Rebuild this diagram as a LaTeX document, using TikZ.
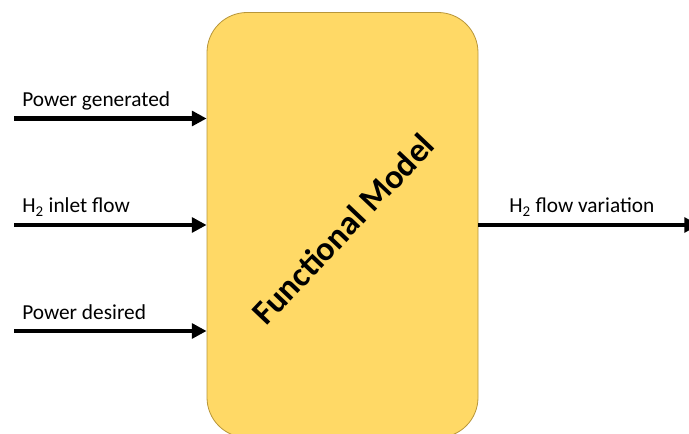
\documentclass[tikz,border=0pt]{standalone}
\usepackage{fontspec}
\setmainfont{Carlito}
\usetikzlibrary{arrows.meta}
\definecolor{boxfill}{HTML}{FFD966}
\definecolor{boxline}{HTML}{B8963A}
\tikzset{
  fmbox/.style={draw=boxline, line width=0.6pt, fill=boxfill, rounded corners=30pt,
    minimum width=203.25pt, minimum height=318.75pt, inner sep=0pt},
  flow/.style={line width=3.4pt, -{Triangle[length=11pt,width=11pt]}},
  lbl/.style={font=\fontsize{16}{19}\selectfont, inner sep=0pt, anchor=base west},
  title/.style={font=\fontsize{25.5}{30}\selectfont\bfseries, inner sep=0pt}
}
\begin{document}
\begin{tikzpicture}[x=0.75pt,y=-0.75pt]
\useasboundingbox (0,0) rectangle (689,434);
\clip (0,0) rectangle (689,434);
\node[fmbox] (fm) at (342.5,225) {};
\node[title, rotate=46.5] (tt) at (343,229) {Functional Model};
\coordinate (in1) at (14,118.5);
\coordinate (in2) at (14,225);
\coordinate (in3) at (14,331);
\coordinate (out) at (699,225);
\draw[flow] (in1) -- (in1 -| fm.west);
\draw[flow] (in2) -- (in2 -| fm.west);
\draw[flow] (in3) -- (in3 -| fm.west);
\draw[flow] (fm.east |- out) -- (out);
\node[lbl] (l1) at (22,107) {Power generated};
\node[lbl] (l2) at (22,213) {H\textsubscript{2} inlet flow};
\node[lbl] (l3) at (22,320) {Power desired};
\node[lbl] (l4) at (509,213) {H\textsubscript{2} flow variation};
\end{tikzpicture}
\end{document}
